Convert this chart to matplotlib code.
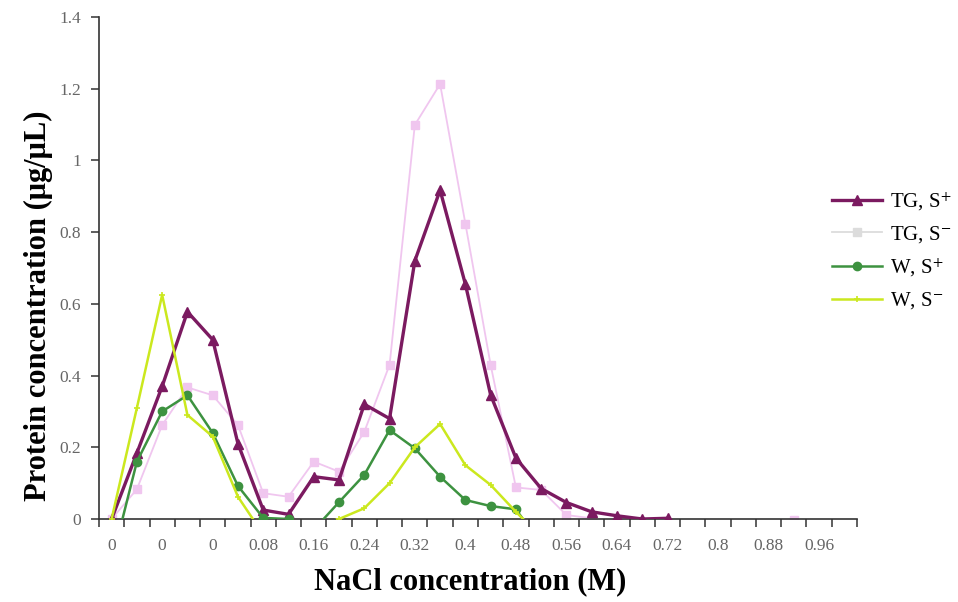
import numpy as np
import matplotlib.pyplot as plt
from matplotlib.lines import Line2D

plt.rcParams['font.family'] = ['Liberation Serif', 'DejaVu Serif']
plt.rcParams['mathtext.fontset'] = 'stix'

nan = np.nan

# 30 fractions on a category axis, labels on every second one
x_labels = ["0", "0", "0", "0.08", "0.16", "0.24", "0.32", "0.4",
            "0.48", "0.56", "0.64", "0.72", "0.8", "0.88", "0.96"]

tg_plus = [0.0, 0.184, 0.37, 0.578, 0.50, 0.21, 0.025, 0.013, 0.118, 0.109,
           0.32, 0.28, 0.72, 0.917, 0.655, 0.346, 0.17, 0.085, 0.046, 0.02,
           0.009, 0.0, 0.002, nan, nan, nan, nan, nan, nan, nan]
tg_minus = [0.0, 0.083, 0.262, 0.367, 0.345, 0.262, 0.072, 0.062, 0.16, 0.132,
            0.243, 0.43, 1.099, 1.213, 0.824, 0.43, 0.088, 0.081, 0.011, 0.002,
            nan, nan, nan, nan, nan, nan, nan, -0.003, nan, nan]
w_plus = [-0.12, 0.16, 0.30, 0.345, 0.24, 0.092, 0.003, 0.0, -0.03, 0.047,
          0.123, 0.248, 0.197, 0.118, 0.053, 0.036, 0.027, -0.07, nan, nan,
          nan, nan, nan, nan, nan, nan, nan, nan, nan, nan]
w_minus = [0.0, 0.31, 0.625, 0.29, 0.23, 0.062, -0.043, -0.06, -0.02, 0.0,
           0.03, 0.10, 0.20, 0.265, 0.15, 0.095, 0.02, -0.05, nan, nan,
           nan, nan, nan, nan, nan, nan, nan, nan, nan, nan]

c_tgp = '#7b1a60'
c_tgm = '#f0c6ef'
c_wp = '#3d9240'
c_wm = '#cbe81e'

x = np.arange(len(tg_plus))

fig = plt.figure(figsize=(9.58, 6.02), dpi=100)
ax = fig.add_axes([99/958, 1-519/602, 758/958, 502/602])

ax.plot(x, tg_minus, color=c_tgm, lw=1.3, marker='s', ms=5.5, mec=c_tgm, zorder=2)
ax.plot(x, tg_plus, color=c_tgp, lw=2.4, marker='^', ms=7.5, zorder=3)
ax.plot(x, w_plus, color=c_wp, lw=1.8, marker='o', ms=6, zorder=4)
ax.plot(x, w_minus, color=c_wm, lw=1.8, marker='+', ms=5, mew=1.2, zorder=5)

ax.set_xlim(-0.5, 29.5)
ax.set_ylim(0, 1.4)
ax.spines['top'].set_visible(False)
ax.spines['right'].set_visible(False)
for s in ['left', 'bottom']:
    ax.spines[s].set_color('#333333')
    ax.spines[s].set_linewidth(1.2)

ax.set_xticks(np.arange(-0.5, 30, 1))
ax.set_xticklabels([])
ax.set_xticks(np.arange(0, 30, 2), minor=True)
ax.set_xticklabels(x_labels, minor=True)
ax.tick_params(axis='x', which='major', length=6, width=1.1, color='#333333')
ax.tick_params(axis='x', which='minor', length=0, pad=14, labelsize=12.5, labelcolor='#666666')

ax.set_yticks(np.arange(0, 1.41, 0.2))
ax.set_yticklabels(["0", "0.2", "0.4", "0.6", "0.8", "1", "1.2", "1.4"])
ax.tick_params(axis='y', length=6, width=1.1, color='#333333', pad=7,
               labelsize=12.5, labelcolor='#666666')

fig.text(38/958, 1-306/602, "Protein concentration (μg/μL)", rotation=90,
         ha='center', va='center', fontsize=22, fontweight='bold')
fig.text(470/958, 1-582/602, "NaCl concentration (M)", ha='center', va='center',
         fontsize=22, fontweight='bold')

handles = [
    Line2D([], [], color=c_tgp, lw=2.4, marker='^', ms=7.5),
    Line2D([], [], color='#dcdcdc', lw=1.3, marker='s', ms=5.5),
    Line2D([], [], color=c_wp, lw=1.8, marker='o', ms=6),
    Line2D([], [], color=c_wm, lw=1.8, marker='+', ms=5, mew=1.2),
]
labels = ["TG, S$^{+}$", "TG, S$^{-}$", "W, S$^{+}$", "W, S$^{-}$"]
fig.legend(handles, labels, loc='upper left', bbox_to_anchor=(828/958, 1-186/602),
           frameon=False, fontsize=15, handlelength=2.4, labelspacing=0.55,
           handletextpad=0.4, borderaxespad=0, borderpad=0.2)

fig.savefig('out.png', dpi=100, facecolor='white')
